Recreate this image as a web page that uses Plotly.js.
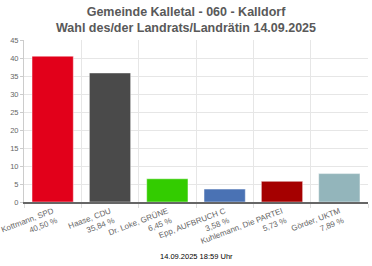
<!DOCTYPE html>
<html><head><meta charset="utf-8">
<script src="https://cdn.plot.ly/plotly-3.0.1.min.js"></script>
<style>html,body{margin:0;padding:0;background:#fff}</style>
</head><body><div id="chart" style="width:372px;height:266px"></div>
<script>
const candidates = ["Kottmann, SPD", "Haase, CDU", "Dr. Loke, GRÜNE", "Epp, AUFBRUCH C", "Kuhlemann, Die PARTEI", "Görder, UKTM"];
const percents = [40.50, 35.84, 6.45, 3.58, 5.73, 7.89];
const percentLabels = ["40,50 %", "35,84 %", "6,45 %", "3,58 %", "5,73 %", "7,89 %"];
const colors = ["#e2001a", "#4a4a4a", "#33cc00", "#4a72b4", "#a50000", "#93b5bb"];
const yTicks = [0, 5, 10, 15, 20, 25, 30, 35, 40, 45];

const xs = candidates.map((c, i) => i);
const tickText = candidates.map((c, i) => c + "<br>" + percentLabels[i]);

Plotly.newPlot("chart", [{
  type: "bar",
  x: xs,
  y: percents,
  width: 0.72,
  marker: {color: colors, line: {color: "rgba(255,255,255,0.45)", width: 1}},
  hoverinfo: "none"
}], {
  width: 372, height: 266,
  margin: {l: 24, r: 4, t: 40, b: 64},
  paper_bgcolor: "#fff", plot_bgcolor: "#fff",
  font: {family: "Liberation Sans, Arial, sans-serif", color: "#666"},
  title: {
    text: "<b>Gemeinde Kalletal - 060 - Kalldorf<br>Wahl des/der Landrats/Landrätin 14.09.2025</b>",
    font: {size: 12.5, color: "#595959"},
    x: 0.5, xanchor: "center", yref: "container", y: 0.94, yanchor: "middle"
  },
  xaxis: {
    range: [-0.5, 5.5],
    tickmode: "array", tickvals: xs, ticktext: tickText,
    tickangle: -21, tickfont: {size: 8, color: "#666"},
    ticklabeloverflow: "allow",
    ticks: "", showgrid: false, zeroline: false,
    showline: true, linecolor: "#666", linewidth: 1.5,
    minor: {tick0: -0.5, dtick: 1, showgrid: true, gridcolor: "#e6e6e6", gridwidth: 1,
            ticks: "outside", ticklen: 4, tickcolor: "#ddd"}
  },
  yaxis: {
    range: [0, 45], tickmode: "array", tickvals: yTicks,
    tickfont: {size: 7.5, color: "#666"},
    showgrid: true, gridcolor: "#e6e6e6", gridwidth: 1,
    zeroline: false, showline: true, linecolor: "#ccc", linewidth: 1,
    ticks: "outside", ticklen: 3, tickcolor: "#ccc"
  },
  showlegend: false,
  annotations: [{
    text: "14.09.2025 18:59 Uhr", xref: "paper", yref: "paper",
    x: 0.5, y: -0.335, xanchor: "center", yanchor: "middle",
    showarrow: false, font: {size: 7.5, color: "#000"}
  }]
}, {displayModeBar: false, staticPlot: true});
</script></body></html>
